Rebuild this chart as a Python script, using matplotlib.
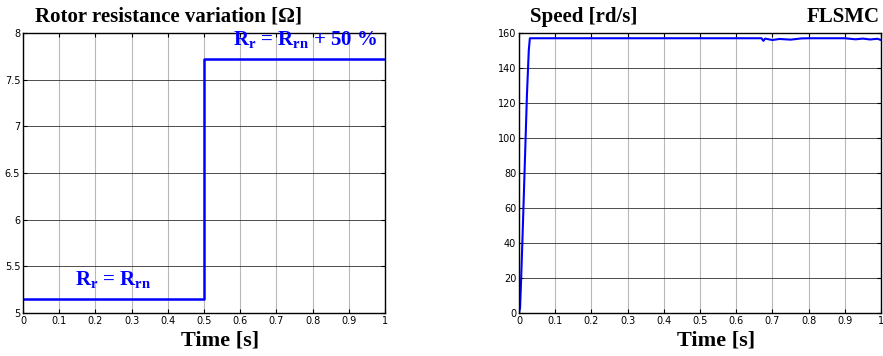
import matplotlib.pyplot as plt

# rotor resistance (step at 0.5 s)
t_r = [0.0, 0.5, 0.5, 1.0]
r_r = [5.15, 5.15, 7.72, 7.72]

# speed response
t_w = [0.0, 0.003, 0.006, 0.01, 0.016, 0.022, 0.027, 0.03, 0.67, 0.675, 0.68, 0.7, 0.72,
       0.75, 0.78, 0.8, 0.9, 0.93, 0.95, 0.97, 0.99, 1.0]
w = [0.0, 3.0, 20.0, 45.0, 85.0, 125.0, 150.0, 157.0, 157.0, 155.5, 156.8, 156.0, 156.6,
     156.2, 156.9, 157.0, 157.0, 156.4, 156.8, 156.3, 156.7, 156.0]

x_ticks = [0, 0.1, 0.2, 0.3, 0.4, 0.5, 0.6, 0.7, 0.8, 0.9, 1]
x_labels = ['0', '0.1', '0.2', '0.3', '0.4', '0.5', '0.6', '0.7', '0.8', '0.9', '1']
r_ticks = [5, 5.5, 6, 6.5, 7, 7.5, 8]
r_labels = ['5', '5.5', '6', '6.5', '7', '7.5', '8']
w_ticks = [0, 20, 40, 60, 80, 100, 120, 140, 160]

plt.rcParams['mathtext.fontset'] = 'custom'
plt.rcParams['mathtext.rm'] = 'Liberation Serif:bold'
plt.rcParams['mathtext.it'] = 'Liberation Serif:bold'
plt.rcParams['mathtext.bf'] = 'Liberation Serif:bold'

tick_font = ['Liberation Sans Narrow', 'DejaVu Sans']
serif = ['Liberation Serif', 'DejaVu Serif']

fig = plt.figure(figsize=(8.83, 3.56), dpi=100)
ax1 = fig.add_axes([23 / 883, 1 - 313 / 356, 362 / 883, 280 / 356])
ax2 = fig.add_axes([519 / 883, 1 - 313 / 356, 362 / 883, 280 / 356])


def style(ax, yt, yl):
    ax.set_xlim(0, 1)
    ax.set_xticks(x_ticks)
    ax.set_xticklabels(x_labels, family=tick_font, fontsize=7)
    ax.set_yticks(yt)
    ax.set_yticklabels(yl, family=tick_font, fontsize=7)
    ax.tick_params(direction='in', top=True, right=True, length=3, width=0.8, pad=2)
    ax.xaxis.grid(True, color='#b8b8b8', linewidth=0.8)
    ax.yaxis.grid(True, color='#303030', linewidth=0.6)
    for s in ax.spines.values():
        s.set_linewidth(1.0)
    ax.set_xlabel('Time [s]', family=serif, fontweight='bold', fontsize=16, labelpad=0)
    ax.xaxis.set_label_coords(0.545, -0.062)


ax1.plot(t_r, r_r, color='#0000ff', linewidth=1.8)
ax1.set_ylim(5, 8)
style(ax1, r_ticks, r_labels)
ax1.text(0.58, 7.93, 'R$_r$ = R$_{rn}$ + 50 %', color='#0000ff', fontsize=15,
         family=serif, fontweight='bold', va='center', ha='left')
ax1.text(0.145, 5.36, 'R$_r$ = R$_{rn}$', color='#0000ff', fontsize=15,
         family=serif, fontweight='bold', va='center', ha='left')
fig.text(35 / 883, 1 - 17 / 356, 'Rotor resistance variation [\u03a9]', family=serif,
         fontweight='bold', fontsize=15, va='center', ha='left')

ax2.plot(t_w, w, color='#0000ff', linewidth=1.5)
ax2.set_ylim(0, 160)
style(ax2, w_ticks, [str(v) for v in w_ticks])
fig.text(530 / 883, 1 - 17 / 356, 'Speed [rd/s]', family=serif,
         fontweight='bold', fontsize=15, va='center', ha='left')
fig.text(880 / 883, 1 - 17 / 356, 'FLSMC', family=serif,
         fontweight='bold', fontsize=15, va='center', ha='right')

fig.savefig('out.png', dpi=100)
